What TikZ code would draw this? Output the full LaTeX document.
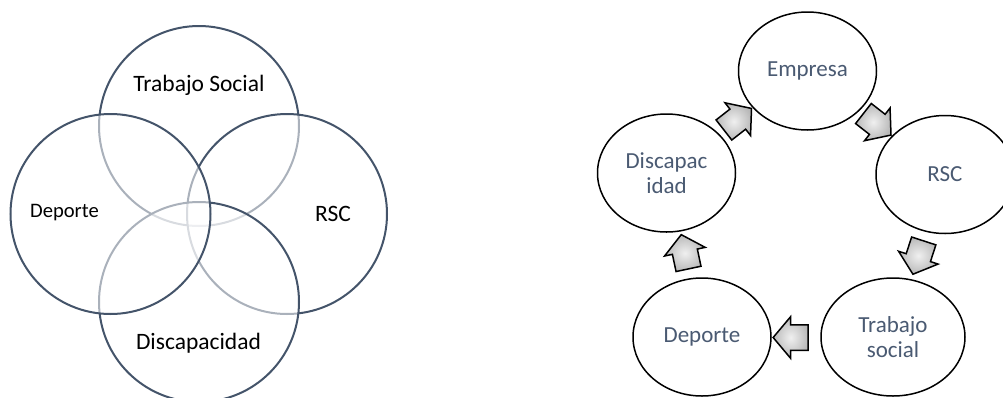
\documentclass[tikz,border=0pt]{standalone}
\usepackage{fontspec}
\setmainfont{Carlito}
\usetikzlibrary{shapes.geometric,shapes.arrows}
\definecolor{slate}{HTML}{44546A}
\definecolor{slatetext}{HTML}{4A5A72}
\tikzset{
  venncircle/.style={
    circle, draw=slate, line width=1pt, fill=white, fill opacity=0.55,
    minimum size=100pt, inner sep=0pt
  },
  venntext/.style={
    font=\fontsize{11.75}{14}\selectfont, text=black, inner sep=0pt
  },
  venntext/.default=11.75,
  cyclenode/.style={
    ellipse, draw=black, line width=0.75pt, fill=white,
    minimum width=69pt, minimum height=59pt, inner sep=0pt,
    font=\fontsize{11.5}{12.5}\selectfont, text=slatetext, align=center
  },
  cyclearrow/.style={
    single arrow, draw=black, line width=0.75pt,
    inner color=gray!12, outer color=gray!55,
    minimum height=17.5pt, inner xsep=0pt, inner ysep=6pt,
    single arrow head extend=4pt, single arrow tip angle=100
  },
}

\begin{document}
\begin{tikzpicture}[x=0.5pt, y=-0.5pt]
  \useasboundingbox (0,0) rectangle (1003,397);

  % Venn
  \node[venncircle] (trabajo) at (199,126) {};
  \node[venncircle] (rsc)     at (287,214) {};
  \node[venncircle] (discap)  at (199,302) {};
  \node[venncircle] (deporte) at (110.5,214) {};

  \node[venntext] (trabajolbl) at (199,85) {Trabajo Social};
  \node[venntext] (rsclbl)     at (333,214) {RSC};
  \node[venntext] (discaplbl)  at (198.5,343) {Discapacidad};
  \node[venntext, font=\fontsize{10.3}{12}\selectfont]
    (deportelbl) at (64.5,213) {Deporte};

  % Cycle
  \node[cyclenode] (empresa) at (807.5,71)  {Empresa};
  \node[cyclenode] (csr)     at (945,174.5) {RSC};
  \node[cyclenode, minimum width=72pt]
    (social)  at (893,337)   {Trabajo\\social};
  \node[cyclenode] (sport)   at (702,337)   {Deporte};
  \node[cyclenode] (disab)   at (666.5,173) {Discapac\\idad};

  \node[cyclearrow, rotate=-38]  (arr1) at (873,121)   {};
  \node[cyclearrow, rotate=-108] (arr2) at (920,252.5) {};
  \node[cyclearrow, rotate=180]  (arr3) at (796,337.5) {};
  \node[cyclearrow, rotate=102]  (arr4) at (686,257)   {};
  \node[cyclearrow, rotate=38]   (arr5) at (733.5,122.5) {};
\end{tikzpicture}
\end{document}
